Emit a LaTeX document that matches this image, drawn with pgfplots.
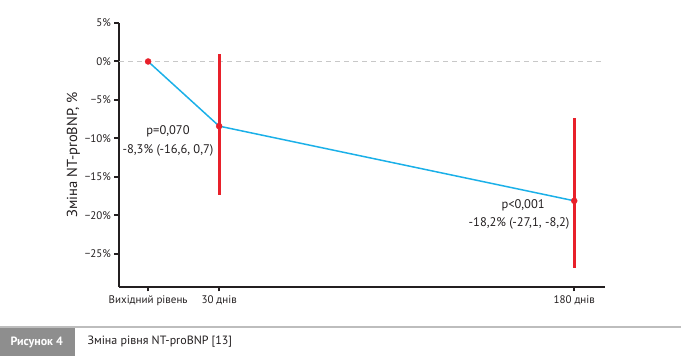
\documentclass[border=0pt]{standalone}
\usepackage{fontspec}
\setmainfont{PT Sans}
\usepackage{pgfplots}
\pgfplotsset{compat=1.18}
\definecolor{lineblue}{HTML}{1BB0E8}
\definecolor{myred}{HTML}{E8202A}
\definecolor{capgray}{HTML}{8E8E8E}
\definecolor{rulegray}{HTML}{BDBDBD}
\definecolor{dashgray}{HTML}{C8C8C8}
\definecolor{txt}{HTML}{231F20}
\pgfplotstableread{
x y ep em
30 -8.4 9.4 9.0
180 -18.1 10.7 8.7
}\errdata
\begin{document}
\begin{tikzpicture}[x=1pt,y=1pt]
\path[use as bounding box] (0,0) rectangle (681,356);
\begin{axis}[
  at={(119pt,69pt)}, anchor=south west,
  scale only axis, width=486pt, height=264pt,
  xmin=-12.3, xmax=193, ymin=-29.3, ymax=5,
  axis x line*=bottom, axis y line*=left,
  axis line style={line width=2.6pt, txt},
  xtick={0,30,180}, xticklabels={Вихідний рівень, 30 днів, 180 днів},
  ytick={-25,-20,-15,-10,-5,0,5},
  yticklabels={−25\%,−20\%,−15\%,−10\%,−5\%,0\%,5\%},
  tick style={txt, line width=2pt}, major tick length=4.5pt, tick align=outside,
  tick label style={font=\fontsize{11}{13}\selectfont, text=txt},
  xticklabel style={yshift=-1pt},
  ylabel={Зміна NT-proBNP, \%},
  ylabel style={font=\fontsize{14.5}{16}\selectfont, text=txt, yshift=-2pt},
  clip=false,
]
\addplot[dashgray, line width=1.8pt, dash pattern=on 5pt off 4pt] coordinates {(-12.3,0) (193,0)};
\addplot[draw=none, mark=none, error bars/.cd, y dir=both, y explicit,
  error mark=none, error bar style={myred, line width=2.8pt}]
  table[x=x, y=y, y error plus=ep, y error minus=em] {\errdata};
\addplot[lineblue, line width=1.5pt, mark=none] coordinates {(0,0) (30,-8.4) (180,-18.1)};
\addplot[only marks, mark=*, mark size=3pt, mark options={fill=myred, draw=myred}] coordinates {(0,0) (30,-8.4) (180,-18.1)};
\node[font=\fontsize{12.5}{14}\selectfont, text=txt] at (axis cs:8.4,-9.1) {p=0,070};
\node[font=\fontsize{12.5}{14}\selectfont, text=txt] at (axis cs:8.4,-11.6) {-8,3\% (-16,6, 0,7)};
\node[font=\fontsize{12.5}{14}\selectfont, text=txt] at (axis cs:158.4,-18.75) {p<0,001};
\node[font=\fontsize{12.5}{14}\selectfont, text=txt] at (axis cs:156.7,-21.1) {-18,2\% (-27,1, -8,2)};
\end{axis}
\fill[capgray] (0,0) rectangle (75,28);
\draw[rulegray, line width=2pt] (0,29) -- (681,29);
\node[anchor=west, text=white, font=\fontsize{12}{14}\selectfont\bfseries] at (7,14) {Рисунок 4};
\node[anchor=west, text=txt, font=\fontsize{12}{14}\selectfont] at (84,14) {Зміна рівня NT-proBNP [13]};
\end{tikzpicture}
\end{document}
